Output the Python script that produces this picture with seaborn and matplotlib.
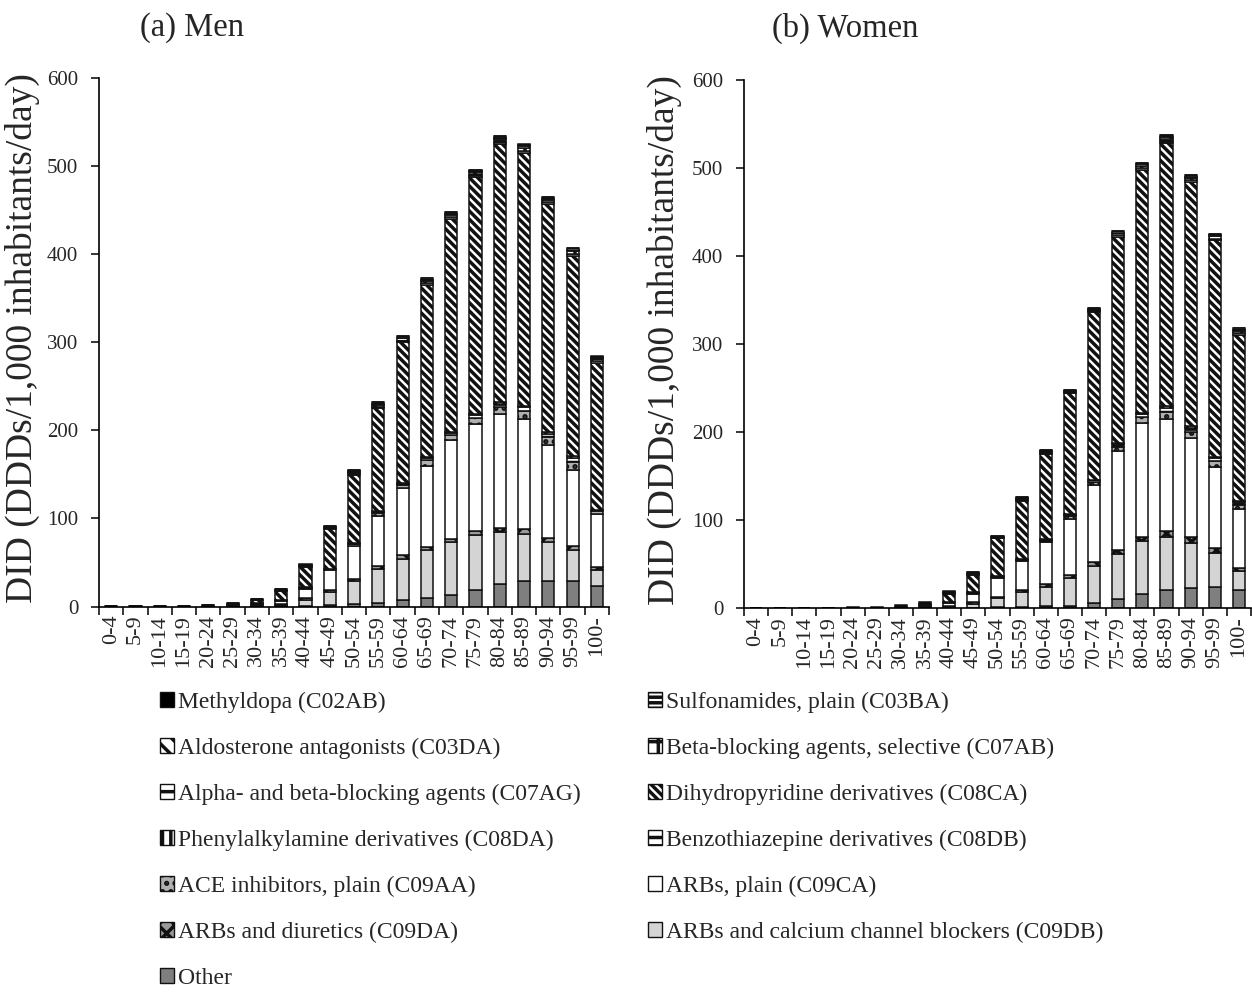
import numpy as np
import pandas as pd
import matplotlib
matplotlib.use("Agg")
import matplotlib.pyplot as plt
from matplotlib.patches import Patch
import seaborn as sns

# Age groups (x axis)
age_groups = ["0-4", "5-9", "10-14", "15-19", "20-24", "25-29", "30-34", "35-39",
              "40-44", "45-49", "50-54", "55-59", "60-64", "65-69", "70-74",
              "75-79", "80-84", "85-89", "90-94", "95-99", "100-"]

# ---- Men: DID (DDDs/1,000 inhabitants/day) by ATC group ----
men_other = [0.3, 0.3, 0.3, 0.2, 0.1, 0.2, 0.3, 0.5, 1.0, 1.5, 2.3, 4.0, 7.0, 9.5, 12.5, 19.0, 25.0, 28.5, 28.5, 29.5, 23.0]
men_c09db = [0, 0, 0, 0.1, 0.2, 0.3, 0.6, 1.5, 6.6, 15.5, 27.0, 39.0, 47.0, 54.5, 60.5, 62.0, 59.5, 54.0, 44.5, 34.5, 18.0]
men_c09da = [0, 0, 0, 0, 0.05, 0.1, 0.3, 0.8, 1.5, 2.0, 2.0, 3.0, 5.0, 4.0, 4.0, 4.5, 4.5, 5.5, 5.0, 4.5, 3.5]
men_c09ca = [0.1, 0.1, 0.1, 0.2, 0.4, 0.7, 1.8, 3.5, 11.0, 22.0, 37.5, 57.0, 76.0, 92.0, 112.0, 122.0, 129.0, 125.0, 105.0, 86.0, 60.5]
men_c09aa = [0, 0, 0, 0.03, 0.05, 0.1, 0.3, 0.6, 1.2, 1.2, 1.8, 3.0, 3.0, 6.0, 5.5, 7.0, 8.5, 9.0, 9.0, 10.0, 3.0]
men_c08db = [0, 0, 0, 0.02, 0.03, 0.06, 0.15, 0.3, 0.5, 0.5, 0.8, 1.3, 1.3, 2.6, 2.3, 3.0, 3.5, 4.0, 4.0, 4.5, 1.3]
men_c08da = [0, 0, 0, 0, 0.02, 0.04, 0.05, 0.1, 0.3, 0.3, 0.4, 0.7, 0.7, 1.4, 1.2, 1.5, 2.0, 2.0, 2.0, 2.0, 0.7]
men_c08ca = [0.2, 0.2, 0.2, 0.35, 0.8, 1.5, 4.0, 10.0, 22.7, 45.0, 78.0, 117.0, 160.0, 195.0, 242.0, 269.0, 293.0, 287.0, 259.0, 227.0, 167.0]
men_c07ag = [0.05, 0.05, 0.05, 0.05, 0.1, 0.1, 0.25, 0.7, 0.8, 0.8, 1.2, 1.8, 1.8, 2.0, 2.0, 2.0, 2.2, 2.5, 2.0, 2.2, 1.8]
men_c07ab = [0.05, 0.05, 0.05, 0.07, 0.12, 0.2, 0.35, 0.9, 1.0, 1.0, 1.8, 2.5, 2.5, 2.8, 2.8, 2.8, 3.2, 3.5, 2.8, 3.2, 2.4]
men_c03da = [0.03, 0.03, 0.03, 0.03, 0.05, 0.08, 0.15, 0.4, 0.5, 0.5, 0.8, 1.0, 1.0, 1.2, 1.2, 1.2, 1.3, 1.5, 1.2, 1.3, 1.0]
men_c03ba = [0.05, 0.05, 0.05, 0.04, 0.06, 0.1, 0.2, 0.5, 0.55, 0.55, 1.0, 1.4, 1.4, 1.6, 1.6, 1.6, 1.9, 2.0, 1.6, 1.9, 1.5]
men_c02ab = [0.02, 0.02, 0.02, 0.01, 0.02, 0.02, 0.05, 0.2, 0.15, 0.15, 0.2, 0.3, 0.3, 0.4, 0.4, 0.4, 0.4, 0.5, 0.4, 0.4, 0.3]

# ---- Women ----
wom_other = [0.2, 0.2, 0.2, 0.2, 0.1, 0.1, 0.2, 0.3, 0.4, 0.5, 0.8, 1.0, 2.0, 2.3, 6.0, 10.0, 15.6, 20.0, 23.0, 24.0, 20.0]
wom_c09db = [0, 0, 0, 0, 0, 0, 0.1, 0.3, 1.6, 4.5, 10.2, 17.0, 22.0, 31.7, 42.0, 51.0, 60.4, 61.0, 51.0, 39.0, 22.0]
wom_c09da = [0, 0, 0, 0, 0, 0, 0, 0.1, 0.5, 1.5, 2.0, 2.0, 3.0, 3.6, 4.0, 5.0, 5.0, 7.0, 7.0, 5.0, 4.0]
wom_c09ca = [0.05, 0.05, 0.05, 0.05, 0.05, 0.1, 0.3, 0.8, 3.5, 9.5, 21.0, 33.0, 48.0, 63.4, 88.0, 112.0, 129.0, 127.0, 112.0, 92.0, 66.0]
wom_c09aa = [0, 0, 0, 0, 0, 0.03, 0.05, 0.15, 0.5, 1.1, 1.1, 1.6, 1.6, 3.2, 3.2, 5.5, 6.5, 8.0, 7.5, 6.5, 5.5]
wom_c08db = [0, 0, 0, 0, 0, 0.01, 0.03, 0.1, 0.3, 0.6, 0.6, 0.9, 0.9, 1.8, 1.8, 3.0, 3.5, 4.5, 4.2, 3.5, 3.0]
wom_c08da = [0, 0, 0, 0, 0, 0.01, 0.02, 0.05, 0.2, 0.3, 0.3, 0.5, 0.5, 1.0, 1.0, 1.5, 2.0, 2.5, 2.3, 2.0, 1.5]
wom_c08ca = [0.05, 0.05, 0.05, 0.05, 0.1, 0.1, 0.3, 1.5, 9.0, 20.0, 43.0, 66.0, 97.0, 137.0, 190.0, 234.0, 276.0, 298.0, 277.0, 246.0, 188.0]
wom_c07ag = [0.02, 0.02, 0.02, 0.02, 0.02, 0.02, 0.02, 0.15, 0.5, 0.7, 0.7, 1.0, 1.0, 1.0, 1.2, 1.5, 2.0, 2.2, 2.0, 1.8, 2.0]
wom_c07ab = [0.03, 0.03, 0.03, 0.03, 0.03, 0.03, 0.03, 0.25, 0.7, 1.1, 1.1, 1.4, 1.4, 1.4, 1.8, 2.1, 2.8, 3.2, 2.8, 2.4, 2.8]
wom_c03da = [0.02, 0.02, 0.02, 0.02, 0.02, 0.02, 0.02, 0.1, 0.3, 0.45, 0.45, 0.6, 0.6, 0.6, 0.8, 0.9, 1.2, 1.4, 1.2, 1.1, 1.2]
wom_c03ba = [0.03, 0.03, 0.03, 0.03, 0.03, 0.03, 0.03, 0.2, 0.5, 0.75, 0.75, 1.0, 1.0, 1.0, 1.2, 1.5, 2.0, 2.2, 2.0, 1.7, 2.0]
wom_c02ab = [0, 0, 0, 0, 0.3, 0.8, 2.0, 3.0, 1.0, 0.2, 0.1, 0.1, 0.1, 0.1, 0.1, 0.1, 0.1, 0.1, 0.1, 0.1, 0.1]

labels = {
    "C02AB": "Methyldopa (C02AB)",
    "C03BA": "Sulfonamides, plain (C03BA)",
    "C03DA": "Aldosterone antagonists (C03DA)",
    "C07AB": "Beta-blocking agents, selective (C07AB)",
    "C07AG": "Alpha- and beta-blocking agents (C07AG)",
    "C08CA": "Dihydropyridine derivatives (C08CA)",
    "C08DA": "Phenylalkylamine derivatives (C08DA)",
    "C08DB": "Benzothiazepine derivatives (C08DB)",
    "C09AA": "ACE inhibitors, plain (C09AA)",
    "C09CA": "ARBs, plain (C09CA)",
    "C09DA": "ARBs and diuretics (C09DA)",
    "C09DB": "ARBs and calcium channel blockers (C09DB)",
    "Other": "Other",
}

men = {"Other": men_other, "C09DB": men_c09db, "C09DA": men_c09da, "C09CA": men_c09ca,
       "C09AA": men_c09aa, "C08DB": men_c08db, "C08DA": men_c08da, "C08CA": men_c08ca,
       "C07AG": men_c07ag, "C07AB": men_c07ab, "C03DA": men_c03da, "C03BA": men_c03ba,
       "C02AB": men_c02ab}
women = {"Other": wom_other, "C09DB": wom_c09db, "C09DA": wom_c09da, "C09CA": wom_c09ca,
         "C09AA": wom_c09aa, "C08DB": wom_c08db, "C08DA": wom_c08da, "C08CA": wom_c08ca,
         "C07AG": wom_c07ag, "C07AB": wom_c07ab, "C03DA": wom_c03da, "C03BA": wom_c03ba,
         "C02AB": wom_c02ab}

# stacking order, bottom to top
stack_order = ["Other", "C09DB", "C09DA", "C09CA", "C09AA", "C08DB", "C08DA",
               "C08CA", "C07AG", "C07AB", "C03DA", "C03BA", "C02AB"]

face = {"Other": "#7f7f7f", "C09DB": "#d4d4d4", "C09DA": "#9a9a9a", "C09CA": "white",
        "C09AA": "#b0b0b0", "C08DB": "white", "C08DA": "white", "C08CA": "white",
        "C07AG": "white", "C07AB": "white", "C03DA": "white", "C03BA": "white",
        "C02AB": "black"}
hatch = {"Other": None, "C09DB": None, "C09DA": "xx", "C09CA": None,
         "C09AA": "..", "C08DB": "--", "C08DA": "||", "C08CA": "\\\\\\\\",
         "C07AG": "-", "C07AB": "+", "C03DA": "\\\\", "C03BA": "---",
         "C02AB": None}

EDGE = "#111111"

sns.set_theme(style="white")
plt.rcParams["font.family"] = ["Liberation Serif", "DejaVu Serif"]
plt.rcParams["hatch.linewidth"] = 2.5
plt.rcParams["hatch.color"] = "black"

fig = plt.figure(figsize=(12.52, 9.94), dpi=100)
W, H = 1252.0, 994.0
ax_men = fig.add_axes([99 / W, 1 - 606.5 / H, 510 / W, 528.5 / H])
ax_wom = fig.add_axes([744 / W, 1 - 608 / H, 507 / W, 528 / H])


def draw_panel(ax, data):
    bottom = np.zeros(len(age_groups))
    for key in stack_order:
        vals = np.asarray(data[key], dtype=float)
        df = pd.DataFrame({"age": age_groups, "did": vals})
        kw = dict(edgecolor=EDGE, linewidth=1.1)
        if hatch[key]:
            kw["hatch"] = hatch[key]
        sns.barplot(data=df, x="age", y="did", order=age_groups, ax=ax,
                    bottom=bottom.copy(), color=face[key], saturation=1,
                    width=0.5, errorbar=None, **kw)
        bottom += vals

    ax.set_xlim(-0.5, len(age_groups) - 0.5)
    ax.set_ylim(0, 600)
    ax.set_yticks(range(0, 601, 100))
    ax.set_xlabel("")
    ax.set_ylabel("")
    ax.set_xticks(range(len(age_groups)))
    ax.set_xticklabels(age_groups, rotation=90, fontsize=16)
    ax.set_xticks(np.arange(-0.5, len(age_groups), 1), minor=True)
    ax.tick_params(axis="x", which="major", length=0, pad=6, bottom=True)
    ax.tick_params(axis="x", which="minor", length=6, width=1.1, color="black",
                   direction="out", bottom=True)
    ax.tick_params(axis="y", which="major", length=6, width=1.1, color="black",
                   direction="out", left=True, pad=9, labelsize=15)
    sns.despine(ax=ax)
    for s in ("left", "bottom"):
        ax.spines[s].set_color("black")
        ax.spines[s].set_linewidth(1.2)


draw_panel(ax_men, men)
draw_panel(ax_wom, women)

# panel titles
fig.text(192 / W, 1 - 28 / H, "(a) Men", ha="center", va="center", fontsize=23.5)
fig.text(845 / W, 1 - 28 / H, "(b) Women", ha="center", va="center", fontsize=23.5)

# axis titles
ylab = "DID (DDDs/1,000 inhabitants/day)"
fig.text(22 / W, 1 - 338 / H, ylab, rotation=90, ha="center", va="center", fontsize=27)
fig.text(664 / W, 1 - 340 / H, ylab, rotation=90, ha="center", va="center", fontsize=27)

# legend in two columns
col1 = ["C02AB", "C03DA", "C07AG", "C08DA", "C09AA", "C09DA", "Other"]
col2 = ["C03BA", "C07AB", "C08CA", "C08DB", "C09CA", "C09DB"]


def handles(keys):
    return [Patch(facecolor=face[k], edgecolor=EDGE, linewidth=1.0,
                  hatch=hatch[k], label=labels[k]) for k in keys]


leg_kw = dict(loc="upper left", frameon=False, fontsize=17, handlelength=0.6,
              handleheight=0.6, handletextpad=0.15, labelspacing=1.05,
              borderpad=0, borderaxespad=0)
fig.legend(handles=handles(col1), bbox_to_anchor=(160 / W, 1 - 692 / H), **leg_kw)
fig.legend(handles=handles(col2), bbox_to_anchor=(648 / W, 1 - 692 / H), **leg_kw)

fig.savefig("out.png", dpi=100)
